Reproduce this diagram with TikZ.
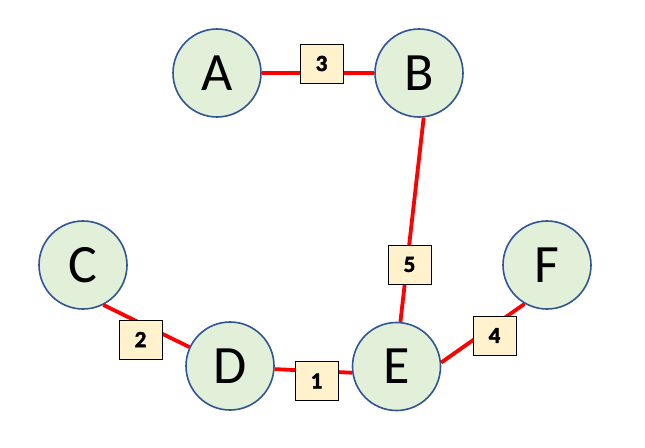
\documentclass[tikz,border=0pt]{standalone}
\usepackage{fontspec}
\setmainfont{Carlito}
\newfontfamily\pesofont{Carlito}[BoldFeatures={FakeBold=2}]
\usepackage{tikz}
\definecolor{azul}{HTML}{2F5597}
\definecolor{verdeclaro}{HTML}{E2F0D9}
\definecolor{vermelho}{HTML}{FF0000}
\definecolor{amareloclaro}{HTML}{FFF2CC}

\begin{document}
\begin{tikzpicture}[
  x=1pt,y=-1pt,
  vertice/.style={circle,draw=azul,fill=verdeclaro,line width=1.6pt,
                  minimum size=88pt,inner sep=0pt,font=\fontsize{54}{54}\selectfont},
  aresta/.style={vermelho,line width=3.8pt},
  peso/.style={draw=black,fill=amareloclaro,line width=1pt,minimum width=43pt,
               minimum height=39pt,inner sep=0pt,
               font=\pesofont\fontsize{23}{23}\selectfont\bfseries}
]
  \useasboundingbox (0,0) rectangle (645,447);
  \node[vertice] (a) at (217,73) {A};
  \node[vertice] (b) at (419,73) {B};
  \node[vertice] (c) at (83,265) {C};
  \node[vertice] (d) at (230,366) {D};
  \node[vertice] (e) at (396.5,366.5) {E};
  \node[vertice] (f) at (547,265) {F};
  \draw[aresta] (a.east) -- (b.west);
  \draw[aresta] (b.-84) -- (e.85.5);
  \draw[aresta] (c.-63) -- (d.155);
  \draw[aresta] (d.-4) -- (e.188);
  \draw[aresta] (e.5) -- (f.-120);
  \node[peso] (pab) at (321.5,63.5) {3};
  \node[peso] (pbe) at (409.5,264.5) {5};
  \node[peso] (pcd) at (140.5,339.5) {2};
  \node[peso] (pde) at (316.5,381) {1};
  \node[peso] (pef) at (494.5,335.5) {4};
\end{tikzpicture}
\end{document}
